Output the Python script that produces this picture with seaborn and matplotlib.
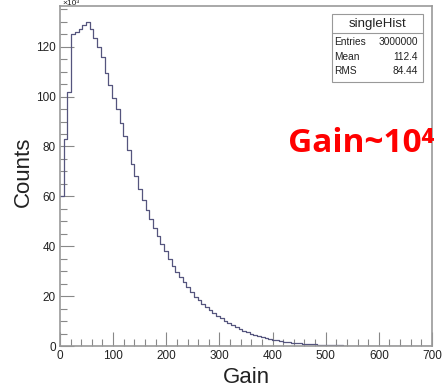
import numpy as np
import pandas as pd
import matplotlib
matplotlib.use("Agg")
import matplotlib.pyplot as plt
import seaborn as sns
from matplotlib.ticker import MultipleLocator
from matplotlib.patches import Rectangle
from matplotlib.lines import Line2D

# conteggi per bin (in migliaia, scala x10^3), 100 bin da 0 a 700
counts_k = [
    60, 83, 102, 125, 126, 127, 128.5, 130, 127, 123.5,
    120, 116, 109.5, 104.5, 99.5, 95, 89.5, 84, 78.5, 73,
    68, 63, 58.5, 54.5, 51, 47.5, 44, 41, 38, 35,
    32, 29.5, 27.5, 25.5, 23.5, 21.5, 19.8, 18.3, 17, 15.6,
    14.4, 13.3, 12.2, 11.1, 10.1, 9.2, 8.4, 7.6, 6.9, 6.2,
    5.6, 5.0, 4.5, 4.0, 3.6, 3.2, 2.9, 2.6, 2.3, 2.0,
    1.8, 1.6, 1.4, 1.25, 1.1, 0.95, 0.85, 0.75, 0.65, 0.55,
    0.48, 0.42, 0.36, 0.31, 0.27, 0.23, 0.2, 0.17, 0.15, 0.13,
    0.11, 0.1, 0.09, 0.08, 0.07, 0.06, 0.05, 0.05, 0.04, 0.04,
    0.03, 0.03, 0.03, 0.02, 0.02, 0.02, 0.02, 0.01, 0.01, 0.01,
]
gain_min, gain_max, bin_width = 0, 700, 7
stat_names = ["Entries", "Mean", "RMS"]
stat_values = ["3000000", "112.4", "84.44"]
hist_name = "singleHist"

sns.set_style("ticks")
plt.rcParams['font.family'] = ['Liberation Sans', 'DejaVu Sans']

centers = np.arange(gain_min, gain_max, bin_width) + bin_width / 2
df = pd.DataFrame({"gain": centers, "counts": counts_k})

fig = plt.figure(figsize=(4.43, 3.9), dpi=100)
ax = fig.add_axes([0.1354, 0.1128, 0.8397, 0.8718])

sns.histplot(data=df, x="gain", weights="counts", binwidth=bin_width,
             binrange=(gain_min, gain_max), element="step",
             fill=False, color="#55557e", linewidth=0.9, ax=ax)

ax.set_xlim(0, 700)
ax.set_ylim(0, 136.3)
ax.xaxis.set_major_locator(MultipleLocator(100))
ax.xaxis.set_minor_locator(MultipleLocator(20))
ax.yaxis.set_major_locator(MultipleLocator(20))
ax.yaxis.set_minor_locator(MultipleLocator(5))
ax.tick_params(which='both', direction='in', top=False, right=False,
               color='#888888', labelsize=8.5, labelcolor='#222222', pad=3)
ax.tick_params(which='major', length=10, width=0.8)
ax.tick_params(which='minor', length=5, width=0.8)
for sp in ax.spines.values():
    sp.set_color('#999999')
    sp.set_linewidth(1.2)

ax.set_xlabel("Gain", fontsize=16, color='#222222')
ax.set_ylabel("Counts", fontsize=16, color='#222222')
ax.xaxis.set_label_coords(0.5, -0.062)
ax.yaxis.set_label_coords(-0.07, 0.513)

# fattore di scala in alto a sinistra
fig.text(62 / 443, 0.999, "×10³", fontsize=6, color='#222222', va='top')

# riquadro statistiche stile ROOT
x0, x1 = 0.750, 0.9555
y0, y1 = 0.7905, 0.9641
fig.add_artist(Rectangle((x0, y0), x1 - x0, y1 - y0, transform=fig.transFigure,
                         facecolor='white', edgecolor='#999999', linewidth=0.8, zorder=5))
fig.add_artist(Line2D([x0, x1], [0.9146, 0.9146], transform=fig.transFigure,
                      color='#999999', linewidth=0.8, zorder=6))
fig.text((x0 + x1) / 2, 0.9392, hist_name, fontsize=9.5, ha='center', va='center',
         color='#222222', zorder=7)
for name, val, yy in zip(stat_names, stat_values, [0.893, 0.8546, 0.818]):
    fig.text(0.7547, yy, name, fontsize=7.3, ha='left', va='center', color='#222222', zorder=7)
    fig.text(0.944, yy, val, fontsize=7.3, ha='right', va='center', color='#222222', zorder=7)

# annotazione rossa
fig.text(0.6494, 0.611, "Gain~10⁴", color='red', fontsize=24, fontweight='bold',
         family=['Open Sans', 'Noto Sans CJK SC', 'DejaVu Sans'], va='baseline')

fig.savefig("out.png", dpi=100)
